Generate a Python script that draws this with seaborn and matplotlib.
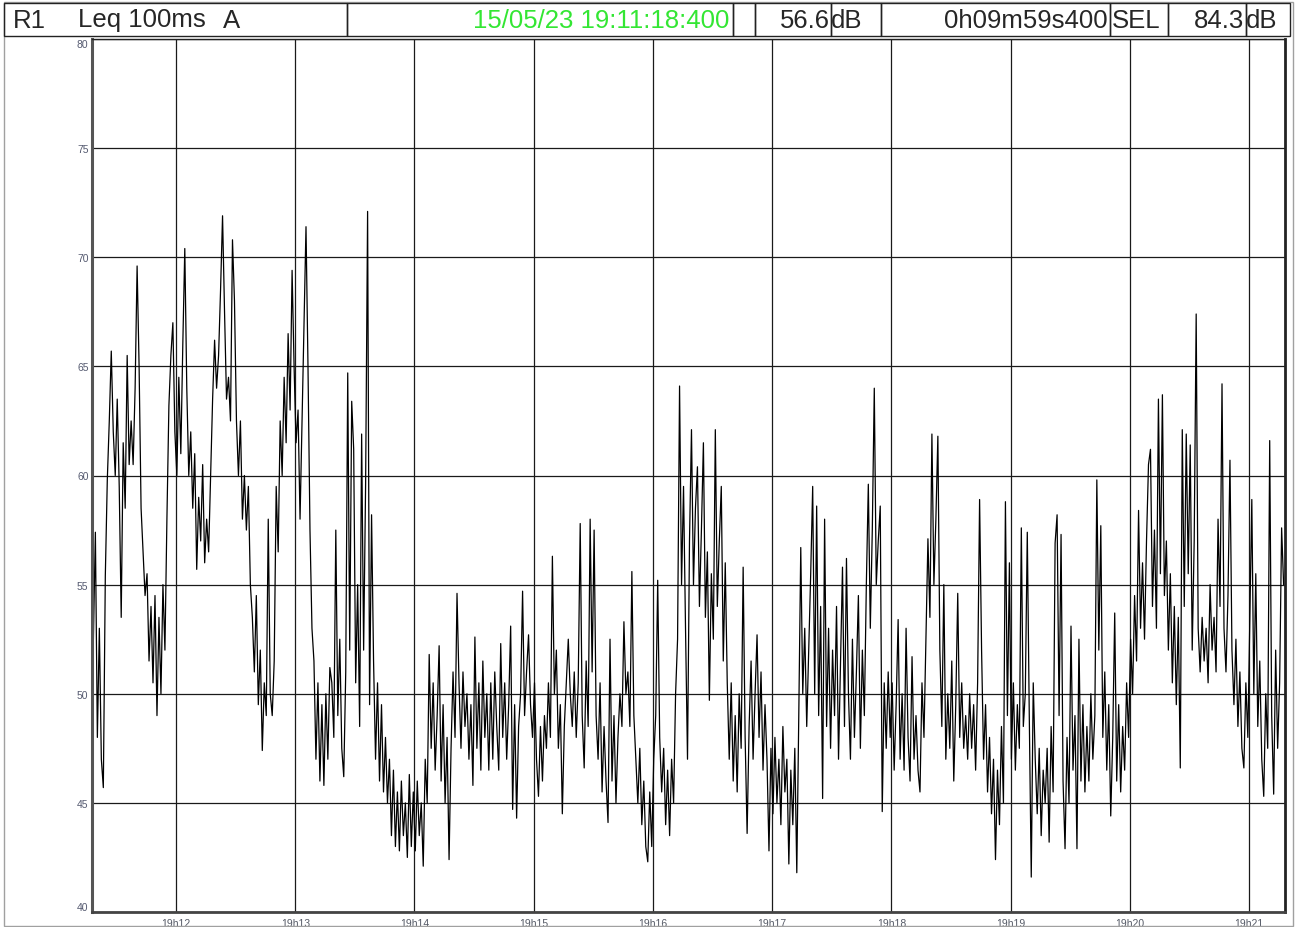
import numpy as np
import pandas as pd
import matplotlib
matplotlib.use("Agg")
import matplotlib.pyplot as plt
import seaborn as sns
from matplotlib.patches import Rectangle

# ---------------- data (Leq 100ms A, one reading per second) ----------------
start_sec = 678.4          # 19:11:18.400 expressed in seconds after 19h00
step_sec = 1.0

leq_min1 = [52.5, 57.4, 48.0, 53.0, 47.0, 45.7, 55.4, 59.8, 62.5, 65.7,
            62.0, 60.0, 63.5, 59.5, 53.5, 61.5, 58.5, 65.5, 60.5, 62.5,
            60.5, 64.0, 69.6, 65.0, 58.5, 56.5, 54.5, 55.5, 51.5, 54.0,
            50.5, 54.5, 49.0, 53.5, 50.0, 55.0, 52.0, 58.0, 63.2, 65.5,
            67.0, 62.0, 60.0, 64.5, 61.0, 66.0, 70.4, 64.0, 60.0, 62.0,
            58.5, 61.0, 55.7, 59.0, 57.0, 60.5, 56.0, 58.0, 56.5, 60.0]
leq_min2 = [63.5, 66.2, 64.0, 65.5, 68.5, 71.9, 67.5, 63.5, 64.5, 62.5,
            70.8, 68.0, 62.5, 60.0, 62.5, 58.0, 60.0, 57.5, 59.5, 55.0,
            53.5, 51.0, 54.5, 49.5, 52.0, 47.4, 50.5, 49.0, 58.0, 50.0,
            49.0, 51.5, 59.5, 56.5, 62.5, 60.0, 64.5, 61.5, 66.5, 63.0,
            69.4, 65.0, 61.5, 63.0, 58.0, 62.5, 67.0, 71.4, 65.0, 57.5,
            53.0, 51.5, 47.0, 50.5, 46.0, 49.5, 45.8, 50.0, 47.0, 51.2]
leq_min3 = [50.5, 48.0, 57.5, 49.0, 52.5, 47.5, 46.2, 51.0, 64.7, 52.0,
            63.4, 61.2, 50.5, 55.0, 48.5, 61.9, 52.0, 59.6, 72.1, 49.5,
            58.2, 51.5, 47.0, 50.5, 46.0, 49.5, 45.5, 48.0, 45.0, 47.0,
            43.5, 46.5, 43.0, 45.5, 42.8, 46.0, 43.5, 45.0, 42.5, 46.3,
            43.0, 45.5, 42.8, 46.0, 43.5, 45.0, 42.1, 47.0, 45.0, 51.8,
            47.5, 50.5, 46.5, 49.0, 52.2, 46.0, 49.5, 45.0, 48.0, 42.4]
leq_min4 = [47.5, 51.0, 48.0, 54.6, 50.5, 47.5, 51.0, 48.5, 50.0, 47.0,
            49.5, 45.8, 52.6, 47.5, 50.5, 46.5, 51.5, 48.0, 50.0, 46.5,
            50.5, 47.0, 51.0, 48.5, 46.5, 52.3, 48.0, 50.5, 47.0, 49.5,
            53.1, 44.7, 49.5, 44.3, 48.5, 50.0, 54.7, 49.0, 51.0, 52.7,
            49.5, 48.0, 50.5, 47.0, 45.3, 48.5, 46.0, 49.0, 47.5, 50.5,
            48.0, 56.3, 50.0, 52.0, 47.5, 49.5, 44.5, 48.5, 50.5, 52.5]
leq_min5 = [50.0, 48.5, 51.0, 48.0, 50.5, 57.8, 49.0, 46.6, 51.5, 48.5,
            58.0, 51.0, 57.5, 49.0, 47.0, 50.5, 45.5, 48.5, 46.0, 44.1,
            52.5, 46.0, 49.0, 45.0, 48.0, 50.0, 48.5, 53.3, 50.0, 51.0,
            48.5, 55.6, 49.0, 47.0, 45.0, 47.5, 44.0, 46.0, 43.0, 42.3,
            45.5, 43.0, 47.0, 49.0, 55.2, 48.0, 45.5, 47.5, 44.0, 46.5,
            43.5, 47.0, 45.0, 50.0, 52.5, 64.1, 55.0, 59.5, 53.0, 47.0]
leq_min6 = [57.0, 62.1, 55.0, 58.5, 60.4, 54.0, 57.5, 61.5, 53.5, 56.5,
            49.7, 55.5, 52.5, 62.1, 54.0, 57.0, 59.5, 51.5, 56.0, 50.5,
            47.0, 50.5, 46.0, 49.0, 45.5, 50.0, 47.5, 55.8, 48.0, 43.6,
            48.5, 51.5, 47.0, 50.0, 52.7, 48.0, 51.0, 46.5, 49.5, 47.0,
            42.8, 47.5, 44.5, 48.0, 45.0, 47.0, 44.0, 48.5, 45.5, 47.0,
            42.2, 46.5, 44.0, 47.5, 41.8, 49.0, 56.7, 50.0, 53.0, 48.5]
leq_min7 = [52.0, 55.5, 59.5, 50.0, 58.6, 49.0, 54.0, 45.2, 58.0, 48.5,
            53.0, 47.5, 52.0, 49.0, 54.0, 47.0, 51.5, 55.8, 48.5, 56.2,
            50.0, 47.0, 52.5, 48.0, 51.0, 54.5, 47.5, 52.0, 49.0, 55.0,
            59.6, 53.0, 57.5, 64.0, 55.0, 57.0, 58.6, 44.6, 50.5, 47.5,
            51.0, 48.0, 50.5, 46.5, 49.5, 53.4, 47.0, 50.0, 46.5, 53.0,
            48.0, 46.0, 51.7, 47.0, 49.0, 46.5, 45.5, 50.5, 48.0, 52.5]
leq_min8 = [57.1, 53.5, 61.9, 55.0, 58.0, 61.8, 52.0, 48.5, 55.0, 47.0,
            50.0, 47.5, 51.5, 46.0, 49.5, 54.6, 48.0, 50.5, 47.5, 49.0,
            47.0, 50.0, 47.5, 49.5, 46.5, 50.5, 58.9, 52.0, 47.0, 49.5,
            45.5, 48.0, 44.5, 47.0, 42.4, 46.5, 44.0, 48.5, 45.0, 58.8,
            49.0, 56.0, 47.0, 50.5, 46.5, 49.5, 47.5, 57.6, 48.5, 50.0,
            57.4, 49.0, 41.6, 50.5, 47.0, 44.5, 47.5, 43.5, 46.5, 45.0]
leq_min9 = [47.5, 43.2, 48.5, 45.5, 56.9, 58.2, 49.0, 57.3, 46.0, 42.9,
            48.0, 45.0, 53.1, 46.5, 49.0, 42.9, 52.5, 46.0, 49.5, 45.5,
            48.5, 46.0, 50.0, 47.0, 49.0, 59.8, 52.0, 57.7, 48.0, 51.0,
            46.5, 49.5, 44.4, 48.0, 53.7, 46.0, 49.5, 45.5, 48.5, 46.5,
            50.5, 48.0, 52.5, 50.0, 54.5, 51.5, 58.4, 53.0, 56.0, 52.5,
            57.0, 60.5, 61.2, 54.0, 57.5, 53.0, 63.5, 55.5, 63.7, 54.5]
leq_min10 = [57.0, 52.0, 55.5, 50.5, 54.0, 49.5, 53.5, 46.6, 62.1, 54.0,
             61.9, 55.5, 61.4, 52.0, 57.0, 67.4, 53.0, 51.0, 53.5, 51.5,
             53.0, 50.5, 55.0, 52.0, 53.5, 51.0, 58.0, 54.0, 64.2, 53.0,
             51.0, 54.5, 60.7, 52.0, 49.5, 52.5, 48.5, 51.0, 47.5, 46.6,
             50.5, 48.0, 53.5, 58.9, 50.0, 55.5, 48.5, 51.5, 47.0, 45.3,
             50.0, 47.5, 61.6, 49.0, 45.4, 52.0, 47.5, 50.5, 57.6, 55.0]

x_tick_secs = [720, 780, 840, 900, 960, 1020, 1080, 1140, 1200, 1260]
x_tick_labels = ["19h12", "19h13", "19h14", "19h15", "19h16",
                 "19h17", "19h18", "19h19", "19h20", "19h21"]
y_ticks = [40, 45, 50, 55, 60, 65, 70, 75, 80]

header_channel = "R1"
header_metric = "Leq 100ms"
header_weight = "A"
header_time = "15/05/23 19:11:18:400"
header_level = "56.6"
header_duration = "0h09m59s400"
header_sel_label = "SEL"
header_sel = "84.3"
header_unit = "dB"

# ---------------- build ----------------
values = (leq_min1 + leq_min2 + leq_min3 + leq_min4 + leq_min5 +
          leq_min6 + leq_min7 + leq_min8 + leq_min9 + leq_min10)
times = start_sec + np.arange(len(values)) * step_sec
df = pd.DataFrame({"t": times, "leq": values})

sns.set_style("white")
plt.rcParams['font.family'] = ['Liberation Sans', 'DejaVu Sans']

W, H = 1298, 928
fig = plt.figure(figsize=(W / 100, H / 100), dpi=100)


def fx(px):
    return px / W


def fy(py):
    return 1 - py / H


ax = fig.add_axes([fx(92), fy(913), fx(1285) - fx(92), fy(40) - fy(913)])
sns.lineplot(data=df, x="t", y="leq", ax=ax, color="black",
             linewidth=0.9, estimator=None, sort=False)

ax.set_xlim(677.7, 1278.1)
ax.set_ylim(40, 80)
ax.set_xticks(x_tick_secs)
ax.set_xticklabels(x_tick_labels)
ax.set_yticks(y_ticks)
ax.set_yticklabels([str(v) for v in y_ticks])
ax.grid(True, color="#1a1a1a", linewidth=0.9)
ax.set_axisbelow(True)
ax.tick_params(axis="x", length=0, labelsize=7.5, labelcolor="#555a66", pad=4.0)
ax.tick_params(axis="y", length=0, labelsize=7.5, labelcolor="#555a70", pad=2.5)
yl = ax.get_yticklabels()
yl[0].set_verticalalignment("bottom")
yl[-1].set_verticalalignment("top")
ax.set_xlabel("")
ax.set_ylabel("")
for side, lw, col in [("left", 2.2, "#555555"), ("bottom", 2.0, "#444444"),
                      ("right", 2.0, "#222222"), ("top", 1.0, "#222222")]:
    ax.spines[side].set_visible(True)
    ax.spines[side].set_linewidth(lw)
    ax.spines[side].set_color(col)

# outer frame
fig.add_artist(Rectangle((fx(4), fy(927)), fx(1293) - fx(4), fy(3) - fy(927),
                         transform=fig.transFigure, fill=False,
                         edgecolor="#a0a0a0", linewidth=1.0))

# header boxes
boxes = [(4, 347), (347, 733), (733, 755), (755, 831), (831, 881),
         (881, 1110), (1110, 1168), (1168, 1246), (1246, 1290)]
for x0, x1 in boxes:
    fig.add_artist(Rectangle((fx(x0), fy(37)), fx(x1) - fx(x0), fy(4) - fy(37),
                             transform=fig.transFigure, fill=False,
                             edgecolor="#222222", linewidth=1.0))

ty = fy(20.5)
fs = 18.5
fig.text(fx(13), ty, header_channel, ha="left", va="center", fontsize=fs)
fig.text(fx(78), ty, header_metric, ha="left", va="center", fontsize=fs)
fig.text(fx(223), ty, header_weight, ha="left", va="center", fontsize=fs)
fig.text(fx(729), ty, header_time, ha="right", va="center", fontsize=fs, color="#33e633")
fig.text(fx(830), ty, header_level, ha="right", va="center", fontsize=fs)
fig.text(fx(831), ty, header_unit, ha="left", va="center", fontsize=fs)
fig.text(fx(1108), ty, header_duration, ha="right", va="center", fontsize=fs)
fig.text(fx(1112), ty, header_sel_label, ha="left", va="center", fontsize=fs)
fig.text(fx(1244), ty, header_sel, ha="right", va="center", fontsize=fs)
fig.text(fx(1246), ty, header_unit, ha="left", va="center", fontsize=fs)

fig.savefig("out.png", dpi=100)
